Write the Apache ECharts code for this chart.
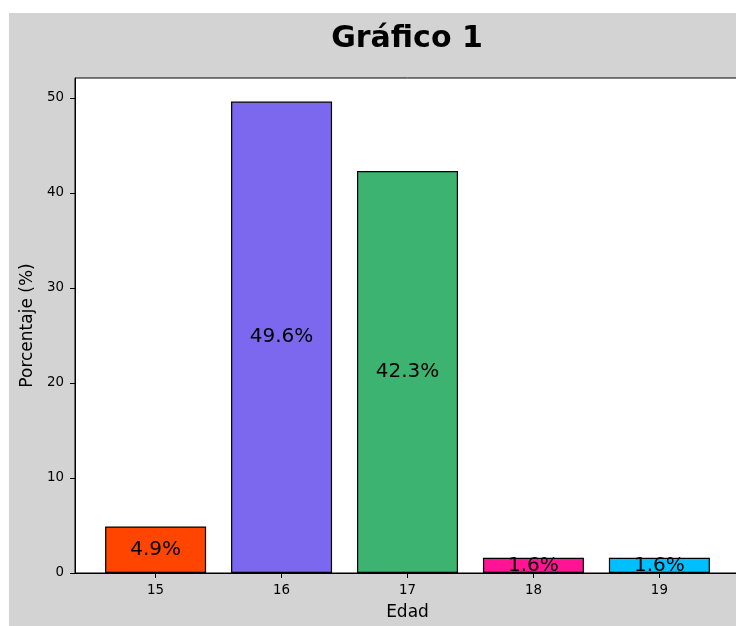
<!DOCTYPE html>
<html>
<head>
<meta charset="utf-8">
<script src="https://cdn.jsdelivr.net/npm/echarts@6/dist/echarts.min.js"></script>
<style>
  html, body { margin: 0; padding: 0; background: #fff; overflow: hidden; width: 736px; height: 626px; }
  #chart { position: absolute; left: 9px; top: 13px; width: 796px; height: 613px; }
</style>
</head>
<body>
<div id="chart"></div>
<script>
// ages on the x axis and percentages
const edades = [15, 16, 17, 18, 19]
const porcentajes = [4.9, 49.6, 42.3, 1.6, 1.6]
const colores = ['#ff4500', '#7b68ee', '#3cb371', '#ff1493', '#00bfff']
const yTicks = [0, 10, 20, 30, 40, 50]

const font = 'DejaVu Sans'
const chart = echarts.init(document.getElementById('chart'))

chart.setOption({
  backgroundColor: '#d3d3d3',
  animation: false,
  title: {
    text: 'Gráfico 1',
    left: 'center',
    top: 6,
    textStyle: { fontFamily: font, fontSize: 30, fontWeight: 'bold', color: '#000' }
  },
  grid: {
    left: 66, top: 65, right: 65, bottom: 53,
    show: true, backgroundColor: '#fff', borderColor: '#000', borderWidth: 1
  },
  xAxis: {
    type: 'value',
    min: 14.36,
    max: 19.64,
    name: 'Edad',
    nameLocation: 'middle',
    nameGap: 31,
    nameTextStyle: { fontFamily: font, fontSize: 17, color: '#000' },
    splitLine: { show: false },
    axisLine: { lineStyle: { color: '#000', width: 1 } },
    axisTick: { customValues: edades, length: 5, lineStyle: { color: '#000' } },
    axisLabel: { customValues: edades, margin: 11, fontFamily: font, fontSize: 13.4, color: '#000' }
  },
  yAxis: {
    type: 'value',
    min: 0,
    max: 52.08,
    name: 'Porcentaje (%)',
    nameLocation: 'middle',
    nameGap: 39,
    nameTextStyle: { fontFamily: font, fontSize: 17, color: '#000' },
    splitLine: { show: false },
    axisLine: { show: true, lineStyle: { color: '#000', width: 1 } },
    axisTick: { show: true, customValues: yTicks, length: 5, lineStyle: { color: '#000' } },
    axisLabel: { customValues: yTicks, margin: 11, fontFamily: font, fontSize: 13.4, color: '#000' }
  },
  series: [
    {
      type: 'bar',
      barWidth: 101,
      data: edades.map((e, i) => ({
        value: [e, porcentajes[i]],
        itemStyle: { color: colores[i], borderColor: '#000', borderWidth: 1.2 }
      })),
      label: {
        show: true,
        position: 'inside',
        fontFamily: font,
        fontSize: 20,
        color: '#000',
        formatter: p => p.value[1].toFixed(1) + '%'
      }
    }
  ]
})
</script>
</body>
</html>
